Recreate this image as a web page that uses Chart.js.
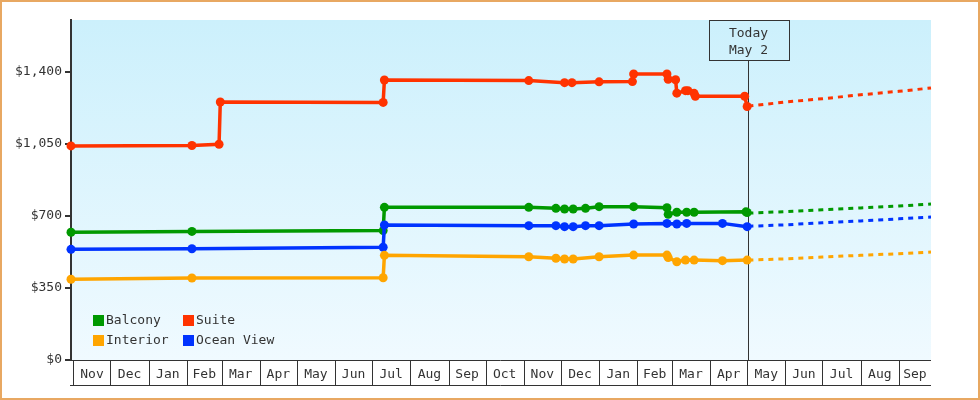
<!DOCTYPE html>
<html>
<head>
<meta charset="utf-8">
<title>Cabin prices</title>
<script src="https://cdn.jsdelivr.net/npm/chart.js@4.4.0/dist/chart.umd.min.js"></script>
<style>
  html, body { margin: 0; padding: 0; background: #fff; }
  #wrap { width: 980px; height: 400px; }
</style>
</head>
<body>
<div id="wrap"><canvas id="priceChart" width="980" height="400"></canvas></div>
<script>

const monthLabels = ['Nov', 'Dec', 'Jan', 'Feb', 'Mar', 'Apr', 'May', 'Jun', 'Jul', 'Aug', 'Sep', 'Oct',
    'Nov', 'Dec', 'Jan', 'Feb', 'Mar', 'Apr', 'May', 'Jun', 'Jul', 'Aug', 'Sep'];
const yTicks = [0, 350, 700, 1050, 1400];

const suiteDates = ['2021-10-30', '2022-02-05', '2022-02-27', '2022-02-28', '2022-07-10', '2022-07-11',
    '2022-11-05', '2022-12-04', '2022-12-10', '2023-01-01', '2023-01-28', '2023-01-29', '2023-02-25',
    '2023-02-26', '2023-03-04', '2023-03-05', '2023-03-12', '2023-03-14', '2023-03-19', '2023-03-20',
    '2023-04-29', '2023-05-01'];
const suitePrices = [1039, 1041, 1047, 1252, 1250, 1359, 1356, 1346, 1346, 1350, 1351, 1388, 1388,
    1362, 1360, 1295, 1307, 1307, 1294, 1280, 1280, 1230];

const balconyDates = ['2021-10-30', '2022-02-05', '2022-07-10', '2022-07-11', '2022-11-05', '2022-11-27',
    '2022-12-04', '2022-12-11', '2022-12-21', '2023-01-01', '2023-01-29', '2023-02-25', '2023-02-26',
    '2023-03-05', '2023-03-13', '2023-03-19', '2023-04-30', '2023-05-01'];
const balconyPrices = [620, 624, 628, 741, 741, 736, 733, 733, 736, 744, 744, 739, 707, 717, 717, 717, 719, 716];

const oceanDates = ['2021-10-30', '2022-02-05', '2022-07-10', '2022-07-11', '2022-11-05', '2022-11-27',
    '2022-12-04', '2022-12-11', '2022-12-21', '2023-01-01', '2023-01-29', '2023-02-25', '2023-03-05',
    '2023-03-13', '2023-04-11', '2023-05-01'];
const oceanPrices = [537, 540, 547, 655, 652, 652, 647, 647, 652, 652, 660, 663, 660, 663, 663, 647];

const interiorDates = ['2021-10-30', '2022-02-05', '2022-07-10', '2022-07-11', '2022-11-05', '2022-11-27',
    '2022-12-04', '2022-12-11', '2023-01-01', '2023-01-29', '2023-02-25', '2023-02-26', '2023-03-05',
    '2023-03-12', '2023-03-19', '2023-04-11', '2023-05-01'];
const interiorPrices = [392, 398, 399, 508, 501, 494, 490, 490, 501, 509, 509, 497, 477, 485, 485, 482, 485];

// projected prices after today
const forecastDates = ['2023-05-02', '2023-06-01', '2023-07-01', '2023-08-01', '2023-09-01', '2023-09-27'];
const suiteForecast = [1232, 1252, 1268, 1287, 1304, 1320];
const balconyForecast = [713, 720, 729, 738, 747, 757];
const oceanForecast = [649, 656, 666, 675, 685, 694];
const interiorForecast = [485, 491, 500, 508, 516, 524];

const todayDate = '2023-05-02';
const todayText = ['Today', 'May 2'];

const DAY0 = Date.UTC(2021, 10, 1);
function day(s) {
    const [y, m, d] = s.split('-').map(Number);
    return (Date.UTC(y, m - 1, d) - DAY0) / 86400000;
}
const xMin = day('2021-10-30');
const xMax = day('2023-09-27');

const monthStarts = [];
for (let i = 0; i <= monthLabels.length; i++) {
    monthStarts.push((Date.UTC(2021, 10 + i, 1) - DAY0) / 86400000);
}
const monthMids = monthLabels.map((m, i) =>
    (Math.max(monthStarts[i], xMin) + Math.min(monthStarts[i + 1], xMax)) / 2);

const colors = {
    balcony: '#009900',
    suite: '#ff3300',
    interior: '#ffa500',
    ocean: '#0033ff'
};

function points(dates, prices) {
    return dates.map((d, i) => ({x: day(d), y: prices[i]}));
}

function actual(label, color, dates, prices) {
    return {
        label: label,
        data: points(dates, prices),
        borderColor: color,
        backgroundColor: color,
        borderWidth: 3.5,
        pointRadius: 4.5,
        pointBorderWidth: 0,
        pointBackgroundColor: color,
        tension: 0,
        clip: false
    };
}

function forecast(color, prices) {
    return {
        label: '',
        data: points(forecastDates, prices),
        borderColor: color,
        borderWidth: 3,
        borderDash: [5, 5],
        pointRadius: 0,
        tension: 0,
        clip: false
    };
}

const legendItems = [
    {text: 'Balcony', color: colors.balcony},
    {text: 'Suite', color: colors.suite},
    {text: 'Interior', color: colors.interior},
    {text: 'Ocean View', color: colors.ocean}
];

const FONT = '13px "DejaVu Sans Mono", "Liberation Mono", monospace';
const INK = '#333';

const backdrop = {
    id: 'backdrop',
    beforeDraw(chart) {
        const {ctx, chartArea: a} = chart;
        ctx.save();
        ctx.fillStyle = '#fff';
        ctx.fillRect(0, 0, chart.width, chart.height);
        const g = ctx.createLinearGradient(0, a.top, 0, a.bottom);
        g.addColorStop(0, '#ccf0fc');
        g.addColorStop(1, '#f0faff');
        ctx.fillStyle = g;
        ctx.fillRect(a.left, a.top, a.right - a.left, a.bottom - a.top);
        ctx.restore();
    },
    afterDraw(chart) {
        const ctx = chart.ctx;
        ctx.save();
        ctx.strokeStyle = '#e8a862';
        ctx.lineWidth = 2;
        ctx.strokeRect(1, 1, chart.width - 2, chart.height - 2);
        ctx.restore();
    }
};

const todayMarker = {
    id: 'todayMarker',
    beforeDatasetsDraw(chart) {
        const {ctx, chartArea: a, scales: {x}} = chart;
        const px = Math.round(x.getPixelForValue(day(todayDate))) + 0.5;
        const boxW = 80, boxH = 40;
        ctx.save();
        ctx.strokeStyle = INK;
        ctx.lineWidth = 1;
        ctx.strokeRect(Math.round(px - boxW / 2) + 0.5, a.top + 0.5, boxW, boxH);
        ctx.beginPath();
        ctx.moveTo(px, a.top + boxH);
        ctx.lineTo(px, a.bottom);
        ctx.stroke();
        ctx.fillStyle = INK;
        ctx.font = FONT;
        ctx.textAlign = 'center';
        ctx.textBaseline = 'middle';
        ctx.fillText(todayText[0], px, a.top + 13.5);
        ctx.fillText(todayText[1], px, a.top + 31);
        ctx.restore();
    }
};

const monthCells = {
    id: 'monthCells',
    afterDraw(chart) {
        const {ctx, chartArea: a, scales: {x}} = chart;
        const top = a.bottom + 0.5, bot = a.bottom + 25.5;
        ctx.save();
        ctx.strokeStyle = INK;
        ctx.lineWidth = 1;
        ctx.beginPath();
        ctx.moveTo(a.left - 1, top);
        ctx.lineTo(a.right, top);
        ctx.moveTo(a.left - 1, bot);
        ctx.lineTo(a.right, bot);
        monthStarts.forEach(d => {
            const px = Math.round(x.getPixelForValue(d)) + 0.5;
            if (px < a.right) {
                ctx.moveTo(px, top);
                ctx.lineTo(px, bot);
            }
        });
        ctx.stroke();
        ctx.restore();
    }
};

const boxLegend = {
    id: 'boxLegend',
    afterDatasetsDraw(chart) {
        const {ctx, chartArea: a} = chart;
        ctx.save();
        ctx.font = FONT;
        ctx.textBaseline = 'middle';
        ctx.textAlign = 'left';
        legendItems.forEach((item, i) => {
            const bx = a.left + 22 + (i % 2) * 90;
            const by = a.bottom - 45 + Math.floor(i / 2) * 20;
            ctx.fillStyle = item.color;
            ctx.fillRect(bx, by, 11, 11);
            ctx.fillStyle = INK;
            ctx.fillText(item.text, bx + 13, by + 6);
        });
        ctx.restore();
    }
};

Chart.defaults.font.family = '"DejaVu Sans Mono", "Liberation Mono", monospace';
Chart.defaults.font.size = 13;
Chart.defaults.color = INK;

const ctx = document.getElementById('priceChart').getContext('2d');
const priceChart = new Chart(ctx, {
    type: 'line',
    data: {
        datasets: [
            forecast(colors.interior, interiorForecast),
            forecast(colors.ocean, oceanForecast),
            forecast(colors.balcony, balconyForecast),
            forecast(colors.suite, suiteForecast),
            actual('Interior', colors.interior, interiorDates, interiorPrices),
            actual('Ocean View', colors.ocean, oceanDates, oceanPrices),
            actual('Balcony', colors.balcony, balconyDates, balconyPrices),
            actual('Suite', colors.suite, suiteDates, suitePrices)
        ]
    },
    options: {
        responsive: false,
        animation: false,
        devicePixelRatio: 1,
        layout: {padding: {left: 0, top: 20, right: 49, bottom: 0}},
        scales: {
            x: {
                type: 'linear',
                min: xMin,
                max: xMax,
                afterFit: scale => { scale.height = 40; },
                afterBuildTicks: scale => { scale.ticks = monthMids.map(v => ({value: v})); },
                grid: {display: false, drawTicks: false},
                border: {display: false},
                ticks: {
                    autoSkip: false,
                    maxRotation: 0,
                    minRotation: 0,
                    padding: 7,
                    color: INK,
                    callback: (value, index) => monthLabels[index]
                }
            },
            y: {
                min: 0,
                max: 1650,
                afterFit: scale => { scale.width = 71; },
                afterBuildTicks: scale => { scale.ticks = yTicks.map(v => ({value: v})); },
                grid: {drawOnChartArea: false, drawTicks: true, tickLength: 6, color: INK, lineWidth: 2},
                border: {display: true, color: INK, width: 2},
                ticks: {
                    padding: 3,
                    color: INK,
                    callback: value => '$' + value.toLocaleString('en-US')
                }
            }
        },
        plugins: {
            legend: {display: false},
            tooltip: {enabled: false}
        }
    },
    plugins: [backdrop, todayMarker, monthCells, boxLegend]
});
</script>
</body>
</html>
